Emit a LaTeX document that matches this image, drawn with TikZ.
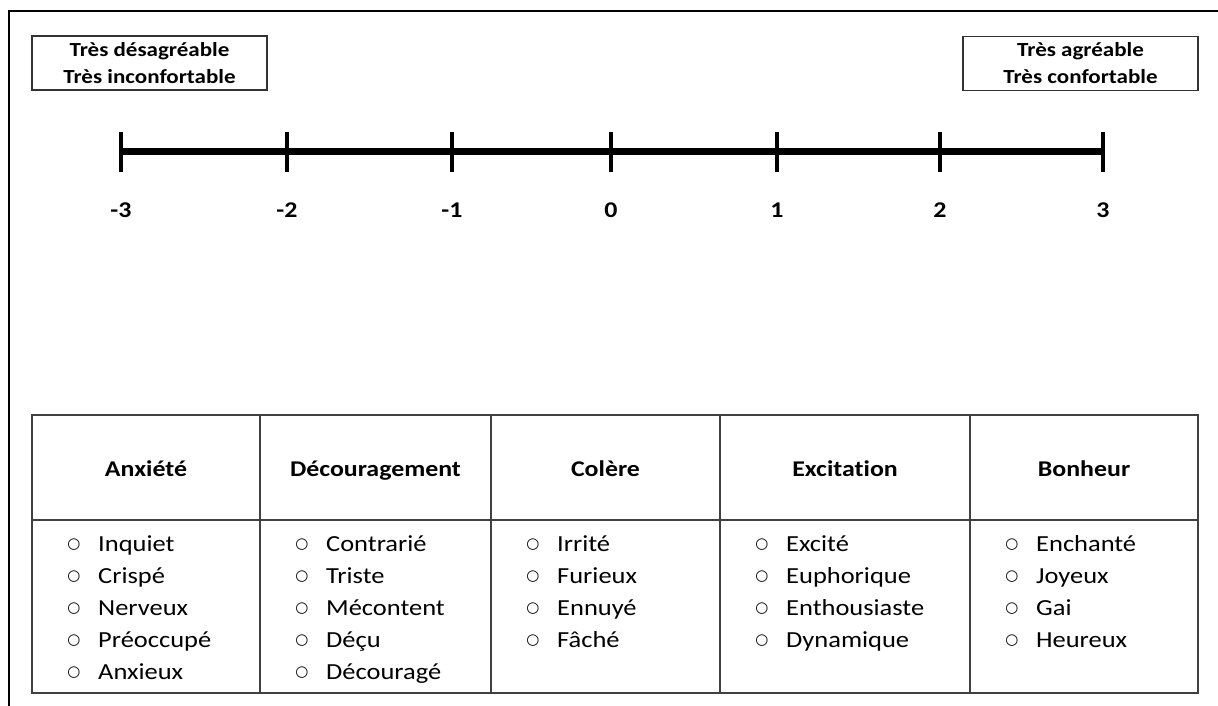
\documentclass[tikz,border=0pt]{standalone}
\usepackage{fontspec}
\setmainfont{Carlito}[FakeStretch=1.15,Ligatures=NoCommon]
\newfontfamily\pucefont{DejaVu Sans}
\usetikzlibrary{positioning}
\tikzset{
    %Define style for the boxes at both ends
    endbox/.style={
           rectangle,
           draw=black!80, line width=1.2pt,
           align=center,
           font=\bfseries\fontsize{20}{27}\selectfont,
           minimum width=235pt,
           minimum height=54pt,
           inner sep=0pt},
    tickmark/.style={line width=3.5pt},
    ticklabel/.style={font=\bfseries\fontsize{22.5}{24}\selectfont},
    header/.style={font=\bfseries\fontsize{22.5}{25}\selectfont, anchor=base},
    wordentry/.style={
           font=\fontsize{23}{28}\selectfont,
           anchor=base west,
           inner sep=0pt},
    puce/.style={
           font=\pucefont\fontsize{15}{16}\selectfont,
           anchor=base,
           yshift=3pt,
           inner sep=0pt},
    % Define style for the table lines
    gridline/.style={draw=black!75, line width=1.2pt}
}
\begin{document}
\begin{tikzpicture}[x=1pt,y=-1pt]
\useasboundingbox (0,0) rectangle (1218,706);
 %frame
\draw[line width=2pt] (9,706) -- (9,11) -- (1218,11);

 %end boxes
\node[endbox](neg) at (149.5,63){Très désagréable\\Très inconfortable};
\node[endbox](pos) at (1080.5,63.5){Très agréable\\Très confortable};

 %scale
\foreach \v/\x in {-3/121,-2/287,-1/452,0/611,1/777,2/940,3/1103}{
    \coordinate (t\v) at (\x,152);
    \draw[tickmark] (\x,132) -- (\x,172);
    \node[ticklabel](l\v) at (\x,210){\v};
}
\draw[line width=7pt] (t-3) -- (t3);

 %table
\coordinate (tl) at (32,415);
\coordinate (br) at (1198,693);
\draw[gridline] (tl) rectangle (br);
\draw[gridline] (32,520) -- (1198,520);
\foreach \x in {260,491,720,970}
    \draw[gridline] (\x,415) -- (\x,693);

\foreach \name/\xc/\title in {anx/146/Anxiété,dec/375.5/Découragement,col/605.5/Colère,exc/845/Excitation,bon/1084/Bonheur}
    \node[header](h-\name) at (\xc,476){\title};

\foreach \name/\xl/\words in {%
    anx/32/{Inquiet,Crispé,Nerveux,Préoccupé,Anxieux},
    dec/260/{Contrarié,Triste,Mécontent,Déçu,Découragé},
    col/491/{Irrité,Furieux,Ennuyé,Fâché},
    exc/720/{Excité,Euphorique,Enthousiaste,Dynamique},
    bon/970/{Enchanté,Joyeux,Gai,Heureux}}
    \foreach \w [count=\n] in \words {
        \node[puce](\name-o\n) at (\xl+42,519+32*\n){○};
        \node[wordentry](\name-\n) at (\xl+66,519+32*\n){\w};
    }

\end{tikzpicture}
\end{document}
